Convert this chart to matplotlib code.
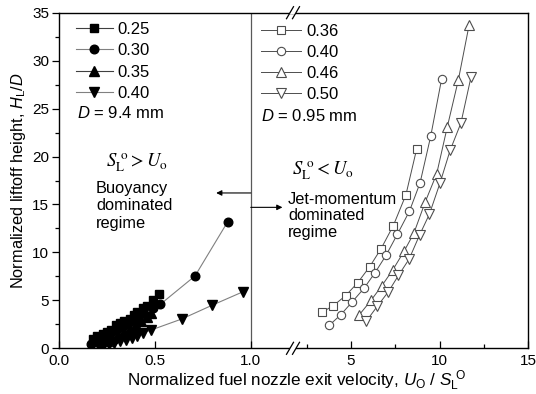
import matplotlib
matplotlib.use('Agg')
import matplotlib.pyplot as plt
from matplotlib.lines import Line2D
from matplotlib.patches import Rectangle
from matplotlib.ticker import MultipleLocator, FixedLocator

plt.rcParams['font.family'] = ['Liberation Sans', 'DejaVu Sans']
plt.rcParams['mathtext.fontset'] = 'custom'
plt.rcParams['mathtext.rm'] = 'Liberation Sans'
plt.rcParams['mathtext.it'] = 'Liberation Sans:italic'

# ---------------- data ----------------
# D = 9.4 mm (buoyancy dominated), filled markers
x_025 = [0.18, 0.20, 0.23, 0.25, 0.27, 0.30, 0.32, 0.34, 0.37, 0.39, 0.41, 0.44, 0.46, 0.49, 0.52]
y_025 = [1.0, 1.3, 1.5, 1.7, 1.9, 2.4, 2.6, 2.8, 3.1, 3.5, 3.8, 4.2, 4.4, 5.0, 5.7]
x_030 = [0.17, 0.20, 0.24, 0.27, 0.31, 0.34, 0.38, 0.41, 0.45, 0.49, 0.53, 0.71, 0.88]
y_030 = [0.4, 0.7, 1.0, 1.3, 1.7, 2.0, 2.4, 2.9, 3.5, 4.2, 4.6, 7.55, 13.2]
x_035 = [0.22, 0.25, 0.28, 0.31, 0.34, 0.37, 0.40, 0.43, 0.46, 0.48]
y_035 = [0.5, 0.8, 1.1, 1.4, 1.7, 2.0, 2.4, 2.8, 3.3, 3.7]
x_040 = [0.23, 0.26, 0.29, 0.32, 0.35, 0.38, 0.41, 0.44, 0.48, 0.64, 0.80, 0.96]
y_040 = [0.3, 0.45, 0.6, 0.75, 0.9, 1.1, 1.3, 1.6, 1.9, 3.05, 4.5, 5.9]

# D = 0.95 mm (jet-momentum dominated), open markers
x_036 = [3.35, 4.0, 4.7, 5.38, 6.05, 6.7, 7.39, 8.1, 8.71]
y_036 = [3.75, 4.45, 5.5, 6.85, 8.5, 10.4, 12.8, 16.0, 20.8]
x_040b = [3.77, 4.42, 5.07, 5.73, 6.36, 6.98, 7.62, 8.3, 8.9, 9.5, 10.12]
y_040b = [2.4, 3.5, 4.85, 6.25, 7.9, 9.7, 11.9, 14.3, 17.25, 22.1, 28.1]
x_046 = [5.47, 6.13, 6.73, 7.35, 7.99, 8.55, 9.2, 9.84, 10.44, 11.06, 11.67]
y_046 = [3.5, 5.0, 6.5, 8.15, 10.1, 12.0, 15.3, 18.2, 23.1, 27.95, 33.7]
x_050 = [5.85, 6.49, 7.11, 7.68, 8.28, 8.87, 9.43, 10.03, 10.6, 11.21, 11.78]
y_050 = [2.8, 4.4, 5.9, 7.6, 9.3, 11.8, 14.0, 17.25, 20.65, 23.5, 28.3]

labels_big = ['0.25', '0.30', '0.35', '0.40']
labels_small = ['0.36', '0.40', '0.46', '0.50']

left_xticks = [0.0, 0.5, 1.0]
left_xticklabels = ['0.0', '0.5', '1.0']
right_xticks = [5, 10, 15]
right_xticklabels = ['5', '10', '15']
yticks = [0, 5, 10, 15, 20, 25, 30, 35]

# ---------------- layout ----------------
W, H = 536, 394
fig = plt.figure(figsize=(5.36, 3.94), dpi=100)
L, R, T, B = 58.7, 528, 12.7, 348.3
J = 293
ax1 = fig.add_axes([L / W, 1 - B / H, (J - L) / W, (B - T) / H])
ax2 = fig.add_axes([J / W, 1 - B / H, (R - J) / W, (B - T) / H], sharey=ax1)

ax1.set_xlim(0, 1.22)
ax2.set_xlim(1.72, 15)
ax1.set_ylim(0, 35)

# left series
ms = 6.2
ax1.plot(x_025, y_025, '-', color='0.25', lw=0.8, marker='s', ms=ms - 0.4, mfc='black', mec='black', label=labels_big[0], zorder=3)
ax1.plot(x_030, y_030, '-', color='0.5', lw=0.8, marker='o', ms=ms, mfc='black', mec='black', label=labels_big[1], zorder=3)
ax1.plot(x_035, y_035, '-', color='0.25', lw=0.8, marker='^', ms=ms + 0.3, mfc='black', mec='black', label=labels_big[2], zorder=3)
ax1.plot(x_040, y_040, '-', color='0.5', lw=0.8, marker='v', ms=ms + 0.3, mfc='black', mec='black', label=labels_big[3], zorder=3)

# right series
oc = '0.3'
oms = 6.0
h1 = ax2.plot(x_036, y_036, '-', color=oc, lw=0.7, marker='s', ms=oms - 0.6, mfc='white', mec=oc, mew=0.8, label=labels_small[0])[0]
h2 = ax2.plot(x_040b, y_040b, '-', color=oc, lw=0.7, marker='o', ms=oms, mfc='white', mec=oc, mew=0.8, label=labels_small[1])[0]
h3 = ax2.plot(x_046, y_046, '-', color=oc, lw=0.7, marker='^', ms=oms + 1.0, mfc='white', mec=oc, mew=0.8, label=labels_small[2])[0]
h4 = ax2.plot(x_050, y_050, '-', color=oc, lw=0.7, marker='v', ms=oms + 1.0, mfc='white', mec=oc, mew=0.8, label=labels_small[3])[0]

# vertical divider at x = 1.0
ax1.axvline(1.0, color='0.35', lw=0.9, zorder=1)

# arrows
ax1.annotate('', xy=(0.82, 16.2), xytext=(1.0, 16.2),
             arrowprops=dict(arrowstyle='-|>', color='black', lw=0.8, mutation_scale=8, shrinkA=0, shrinkB=0))
ax1.annotate('', xy=(1.165, 14.7), xytext=(1.0, 14.7),
             arrowprops=dict(arrowstyle='-|>', color='black', lw=0.8, mutation_scale=8, shrinkA=0, shrinkB=0))

# spines & ticks
for ax in (ax1, ax2):
    for s in ax.spines.values():
        s.set_linewidth(1.0)
ax1.spines['right'].set_visible(False)
ax2.spines['left'].set_visible(False)

ax1.yaxis.set_major_locator(FixedLocator(yticks))
ax1.yaxis.set_minor_locator(MultipleLocator(2.5))
ax1.xaxis.set_major_locator(FixedLocator(left_xticks))
ax1.set_xticklabels(left_xticklabels)
ax2.xaxis.set_major_locator(FixedLocator(right_xticks))
ax2.set_xticklabels(right_xticklabels)
ax2.xaxis.set_minor_locator(FixedLocator([2.5, 7.5, 12.5]))

ax1.tick_params(axis='y', which='major', direction='out', length=5, width=0.9, labelsize=11, pad=2)
ax1.tick_params(axis='y', which='minor', direction='out', length=3, width=0.9)
ax1.tick_params(axis='x', which='major', direction='in', length=5, width=0.9, labelsize=11, pad=4)
ax2.tick_params(axis='x', which='major', direction='in', length=5, width=0.9, labelsize=11, pad=4)
ax2.tick_params(axis='x', which='minor', direction='in', length=3, width=0.9)
ax2.tick_params(axis='y', which='both', left=False, labelleft=False)

ax1.set_ylabel(r'Normalized liftoff height, $H_\mathrm{L}/D$', fontsize=11.8, labelpad=3)
fig.text(297 / W, 1 - 381 / H,
         r'Normalized fuel nozzle exit velocity, $U_\mathrm{O}$ / $S_\mathrm{L}^{\ \mathrm{O}}$',
         fontsize=12.3, ha='center', va='center')

# break marks
def brk(yfrac):
    xc = J / W
    dx, dy = 3.5 / W, 6 / H
    gap = 3.0 / W
    fig.add_artist(Rectangle((xc - gap, yfrac - 1.5 / H), 2 * gap, 3 / H, transform=fig.transFigure,
                             facecolor='white', edgecolor='none', zorder=10))
    for off in (-gap, gap):
        fig.add_artist(Line2D([xc + off - dx, xc + off + dx], [yfrac - dy, yfrac + dy],
                              transform=fig.transFigure, color='black', lw=0.9, zorder=11))

brk(1 - B / H)
brk(1 - T / H)

# legends
handles1, labs1 = ax1.get_legend_handles_labels()
fig.legend(handles1, labs1, loc='upper left', bbox_to_anchor=(76 / W, 1 - 22 / H),
           frameon=False, fontsize=12, handlelength=2.2, handletextpad=0.3,
           labelspacing=0.38, borderpad=0, borderaxespad=0)
fig.legend([h1, h2, h3, h4], labels_small, loc='upper left', bbox_to_anchor=(261 / W, 1 - 24 / H),
           frameon=False, fontsize=12, handlelength=2.4, handletextpad=0.3,
           labelspacing=0.36, borderpad=0, borderaxespad=0)
fig.text(77 / W, 1 - 113 / H, r'$D$ = 9.4 mm', fontsize=12, ha='left', va='center')
fig.text(261 / W, 1 - 116 / H, r'$D$ = 0.95 mm', fontsize=12, ha='left', va='center')

# regime annotations
fig.text(106 / W, 1 - 163 / H, r'$S_\mathrm{L}^{\ \mathrm{o}} > U_\mathrm{o}$', fontsize=13.5,
         ha='left', va='center', math_fontfamily='stix')
fig.text(292 / W, 1 - 171 / H, r'$S_\mathrm{L}^{\ \mathrm{o}} < U_\mathrm{o}$', fontsize=13.5,
         ha='left', va='center', math_fontfamily='stix')
fig.text(96 / W, 1 - 206 / H, 'Buoyancy\ndominated\nregime', fontsize=11.8, ha='left', va='center',
         linespacing=1.2)
fig.text(288 / W, 1 - 216 / H, 'Jet-momentum\ndominated\nregime', fontsize=11.8, ha='left', va='center',
         linespacing=1.15)

fig.savefig('out.png', dpi=100)
